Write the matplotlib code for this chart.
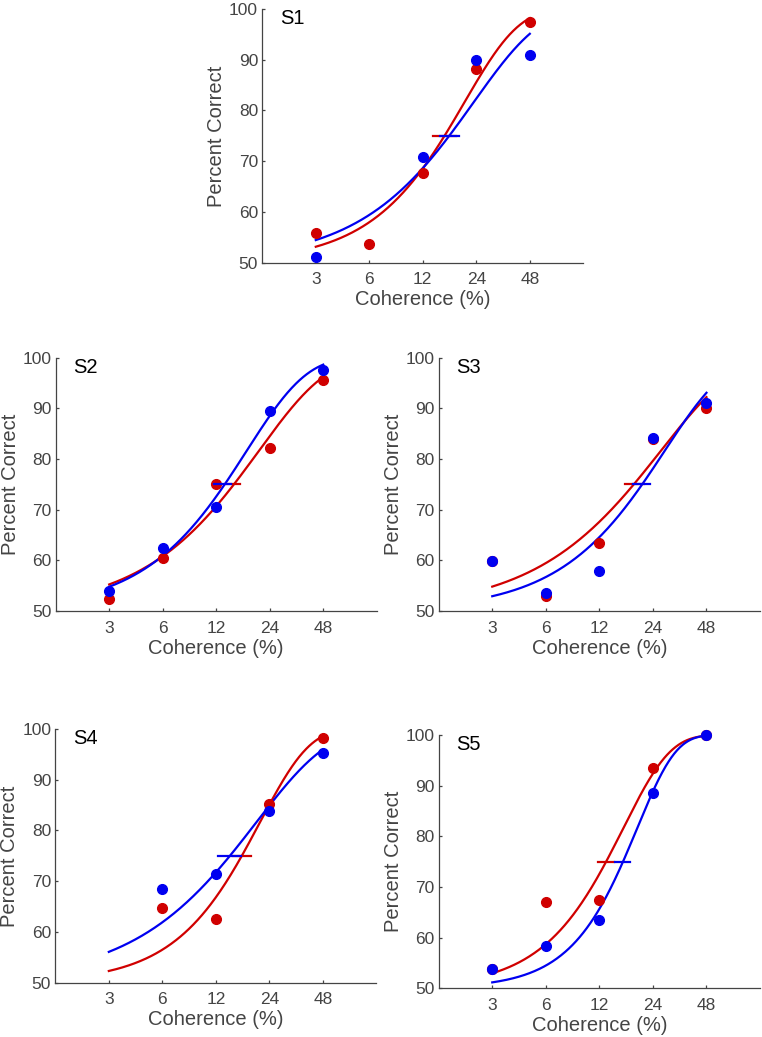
import numpy as np
import matplotlib
matplotlib.use("Agg")
import matplotlib.pyplot as plt
from matplotlib.ticker import FixedLocator, FixedFormatter, NullLocator

plt.rcParams['font.family'] = ['Liberation Sans', 'DejaVu Sans']

# ---------------- data ----------------
coherence = [3, 6, 12, 24, 48]
tick_labels = ["3", "6", "12", "24", "48"]
subjects = ["S1", "S2", "S3", "S4", "S5"]

red_pc = {
    "S1": [55.8, 53.7, 67.6, 88.1, 97.4],
    "S2": [52.3, 60.4, 75.1, 82.2, 95.6],
    "S3": [59.9, 53.0, 63.4, 84.0, 90.0],
    "S4": [np.nan, 64.7, 62.5, 85.3, 98.2],
    "S5": [53.8, 67.0, 67.4, 93.4, 100.0],
}
blue_pc = {
    "S1": [51.2, np.nan, 70.8, 89.9, 90.9],
    "S2": [53.9, 62.5, 70.6, 89.5, 97.6],
    "S3": [59.9, 53.6, 57.9, 84.1, 91.0],
    "S4": [np.nan, 68.5, 71.4, 83.9, 95.3],
    "S5": [53.75, 58.4, 63.5, 88.5, 100.0],
}
# Weibull fit parameters (75% threshold, slope)
red_threshold = {"S1": 15.9, "S2": 15.1, "S3": 18.75, "S4": 16.8, "S5": 13.1}
red_slope = {"S1": 1.42, "S2": 1.135, "S3": 1.05, "S4": 1.56, "S5": 1.65}
blue_threshold = {"S1": 16.9, "S2": 13.4, "S3": 20.9, "S4": 14.4, "S5": 16.3}
blue_slope = {"S1": 1.16, "S2": 1.29, "S3": 1.26, "S4": 1.07, "S5": 2.0}
# threshold interval bars at 75%
red_interval = {"S1": (13.7, 18.4), "S2": (13.6, 16.4), "S3": (16.8, 21.5),
                "S4": (14.9, 18.9), "S5": (11.75, 14.5)}
blue_interval = {"S1": (15.0, 19.1), "S2": (11.6, 14.6), "S3": (18.5, 23.2),
                 "S4": (12.3, 16.6), "S5": (14.6, 17.9)}

RED = "#d00000"
BLUE = "#0000f0"
GRAY = "#444444"

positions = {
    "S1": [0.3442, 0.7467, 0.4213, 0.2446],
    "S2": [0.0731, 0.4108, 0.4213, 0.2443],
    "S3": [0.5757, 0.4108, 0.4217, 0.2443],
    "S4": [0.0726, 0.0524, 0.4213, 0.2446],
    "S5": [0.5757, 0.0470, 0.4217, 0.2442],
}


def weibull(x, t, b):
    return 100.0 * (1.0 - 0.5 * 2.0 ** (-(x / t) ** b))


fig = plt.figure(figsize=(7.62, 10.37), dpi=100)
xfit = np.geomspace(coherence[0], coherence[-1], 300)

for s in subjects:
    ax = fig.add_axes(positions[s])
    ax.set_xscale("log")
    ax.set_xlim(1.5, 96)
    ax.set_ylim(50, 100)

    ax.plot(xfit, weibull(xfit, red_threshold[s], red_slope[s]), color=RED, lw=1.6, zorder=2)
    ax.plot(xfit, weibull(xfit, blue_threshold[s], blue_slope[s]), color=BLUE, lw=1.6, zorder=2)
    ax.plot(coherence, red_pc[s], "o", color=RED, ms=7, mec=RED, zorder=3, clip_on=False)
    ax.plot(coherence, blue_pc[s], "o", color=BLUE, ms=7, mec=BLUE, zorder=4, clip_on=False)
    ax.plot(red_interval[s], [75, 75], color=RED, lw=1.6, zorder=5)
    ax.plot(blue_interval[s], [75, 75], color=BLUE, lw=1.6, zorder=6)

    ax.xaxis.set_major_locator(FixedLocator(coherence))
    ax.xaxis.set_major_formatter(FixedFormatter(tick_labels))
    ax.xaxis.set_minor_locator(NullLocator())
    ax.set_yticks([50, 60, 70, 80, 90, 100])

    for side in ("top", "right"):
        ax.spines[side].set_visible(False)
    for side in ("left", "bottom"):
        ax.spines[side].set_color(GRAY)
        ax.spines[side].set_linewidth(0.9)
    ax.tick_params(direction="in", length=2.5, width=0.9, color=GRAY,
                   labelcolor=GRAY, labelsize=12.5)
    ax.tick_params(axis="x", pad=7)
    ax.tick_params(axis="y", pad=3)

    ax.set_xlabel("Coherence (%)", fontsize=14.5, color=GRAY, labelpad=2)
    ax.set_ylabel("Percent Correct", fontsize=14.5, color=GRAY, labelpad=2)
    ax.text(0.055, 0.94, s, transform=ax.transAxes, fontsize=14.5, color="black",
            ha="left", va="baseline")

fig.savefig("out.png", dpi=100)
